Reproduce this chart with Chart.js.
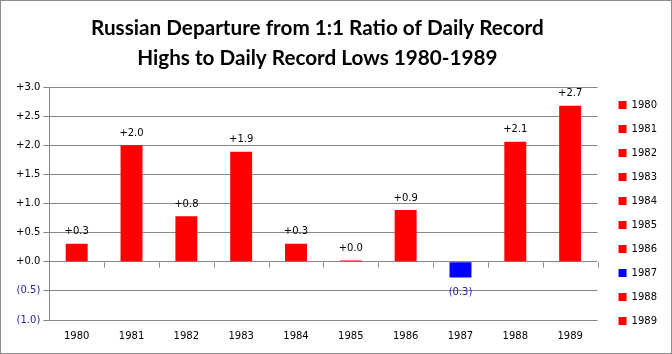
<!DOCTYPE html>
<html>
<head>
<meta charset="utf-8">
<script src="https://cdn.jsdelivr.net/npm/chart.js@4.4.0/dist/chart.umd.min.js"></script>
<style>
  html, body { margin: 0; padding: 0; background: #fff; }
  #wrap { width: 670px; height: 352px; border: 1px solid #8c8c8c; }
</style>
</head>
<body>
<div id="wrap"><canvas id="chart" width="670" height="352"></canvas></div>
<script>
// data
const years = ['1980', '1981', '1982', '1983', '1984', '1985', '1986', '1987', '1988', '1989'];
const departures = [0.31, 2.0, 0.78, 1.89, 0.31, 0.02, 0.89, -0.27, 2.06, 2.68];
// trailing spaces nudge the centred title a bit left, like the original
const titleLines = ['Russian Departure from 1:1 Ratio of Daily Record         ', 'Highs to Daily Record Lows 1980-1989         '];

const RED = '#ff0000';
const BLUE = '#0000ff';
const NEG_TEXT = '#2424a8';
const GRID = '#868686';
const FONT = '"DejaVu Sans", Verdana, sans-serif';

const barColors = departures.map(v => v < 0 ? BLUE : RED);

function fmt(v) {
  return v < 0 ? '(' + Math.abs(v).toFixed(1) + ')' : '+' + v.toFixed(1);
}

// value labels over the bars + little tick marks on the zero line
const barLabels = {
  id: 'barLabels',
  afterDatasetsDraw(chart) {
    const ctx = chart.ctx;
    const meta = chart.getDatasetMeta(0);
    ctx.save();
    ctx.font = '10px ' + FONT;
    ctx.textAlign = 'center';
    meta.data.forEach((bar, i) => {
      const v = departures[i];
      if (v >= 0) {
        ctx.fillStyle = '#000';
        ctx.textBaseline = 'bottom';
        ctx.fillText(fmt(v), bar.x, bar.y - 7);
      } else {
        ctx.fillStyle = NEG_TEXT;
        ctx.textBaseline = 'top';
        ctx.fillText(fmt(v), bar.x, bar.y + 10);
      }
    });

    const xs = chart.scales.x, ys = chart.scales.y;
    const y0 = Math.round(ys.getPixelForValue(0)) + 0.5;
    ctx.strokeStyle = GRID;
    ctx.lineWidth = 1;
    ctx.beginPath();
    for (let i = 0; i < years.length; i++) {
      const px = Math.round(xs.getPixelForValue(i + 0.5)) + 0.5;
      ctx.moveTo(px, y0);
      ctx.lineTo(px, y0 + 5);
    }
    ctx.stroke();
    ctx.restore();
  }
};

new Chart(document.getElementById('chart'), {
  type: 'bar',
  data: {
    labels: years,
    datasets: [{
      data: departures,
      backgroundColor: barColors,
      borderWidth: 0,
      barPercentage: 0.4,
      categoryPercentage: 1.0
    }]
  },
  options: {
    responsive: false,
    animation: false,
    layout: { padding: { left: 12, right: 4, bottom: 1 } },
    plugins: {
      title: {
        display: true,
        text: titleLines,
        color: '#000',
        font: { family: 'Lato', weight: 'bold', size: 20.7, lineHeight: 1.45 },
        padding: { top: 12, bottom: 14 }
      },
      legend: {
        position: 'right',
        align: 'start',
        onClick: null,
        // empty legend title only pushes the entries down
        title: { display: true, text: '', font: { size: 10, lineHeight: 1.2 }, padding: { top: 0, bottom: 73 } },
        labels: {
          boxWidth: 8,
          boxHeight: 8,
          padding: 14,
          color: '#000',
          font: { family: FONT, size: 10 },
          generateLabels: () => years.map((yr, i) => ({
            text: yr,
            fillStyle: barColors[i],
            strokeStyle: barColors[i],
            lineWidth: 0,
            hidden: false,
            index: i,
            fontColor: '#000'
          }))
        }
      },
      tooltip: { enabled: false }
    },
    scales: {
      x: {
        grid: { display: false, drawTicks: false },
        border: { display: false },
        ticks: { color: '#000', padding: 10, font: { family: FONT, size: 10 } }
      },
      y: {
        min: -1,
        max: 3,
        ticks: {
          stepSize: 0.5,
          padding: 3,
          callback: v => fmt(v),
          color: c => c.tick.value < 0 ? NEG_TEXT : '#000',
          font: { family: FONT, size: 10 }
        },
        grid: { color: GRID, tickLength: 6 },
        border: { color: GRID }
      },
      // empty spacer between plot and legend
      gap: {
        type: 'linear',
        position: 'right',
        display: true,
        grid: { display: false, drawTicks: false },
        border: { display: false },
        ticks: { display: false },
        afterFit: s => { s.width = 7; }
      }
    }
  },
  plugins: [barLabels]
});
</script>
</body>
</html>
